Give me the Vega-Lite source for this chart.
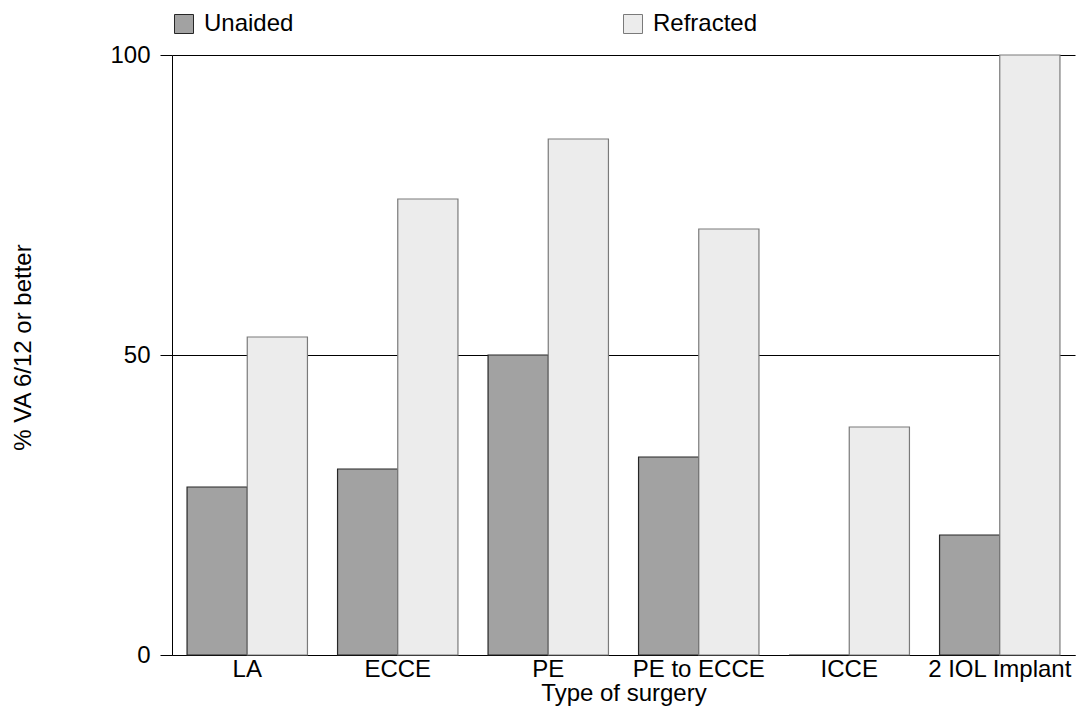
{
  "$schema": "https://vega.github.io/schema/vega-lite/v6.json",
  "width": 903,
  "height": 600,
  "autosize": {"type": "none"},
  "padding": {"left": 172, "top": 55, "right": 4, "bottom": 57},
  "config": {
    "view": {"stroke": null},
    "font": "Liberation Sans",
    "axis": {"labelColor": "black", "titleColor": "black", "titleFontWeight": "normal"}
  },
  "data": {
    "values": [
      {"surgery": "LA", "series": "Unaided", "value": 28},
      {"surgery": "LA", "series": "Refracted", "value": 53},
      {"surgery": "ECCE", "series": "Unaided", "value": 31},
      {"surgery": "ECCE", "series": "Refracted", "value": 76},
      {"surgery": "PE", "series": "Unaided", "value": 50},
      {"surgery": "PE", "series": "Refracted", "value": 86},
      {"surgery": "PE to ECCE", "series": "Unaided", "value": 33},
      {"surgery": "PE to ECCE", "series": "Refracted", "value": 71},
      {"surgery": "ICCE", "series": "Unaided", "value": 0},
      {"surgery": "ICCE", "series": "Refracted", "value": 38},
      {"surgery": "2 IOL Implant", "series": "Unaided", "value": 20},
      {"surgery": "2 IOL Implant", "series": "Refracted", "value": 100}
    ]
  },
  "mark": {"type": "bar", "strokeWidth": 1.2},
  "encoding": {
    "x": {
      "field": "surgery",
      "type": "nominal",
      "sort": ["LA", "ECCE", "PE", "PE to ECCE", "ICCE", "2 IOL Implant"],
      "scale": {"paddingInner": 0.2, "paddingOuter": 0.1},
      "axis": {
        "title": "Type of surgery",
        "labelAngle": 0,
        "labelFontSize": 24,
        "labelPadding": 2,
        "ticks": false,
        "domainColor": "black",
        "domainWidth": 1,
        "titleFontSize": 24,
        "titlePadding": 0
      }
    },
    "xOffset": {"field": "series", "type": "nominal", "sort": ["Unaided", "Refracted"]},
    "y": {
      "field": "value",
      "type": "quantitative",
      "scale": {"domain": [0, 100]},
      "axis": {
        "values": [0, 50, 100],
        "title": "% VA 6/12 or better",
        "grid": true,
        "gridColor": "black",
        "gridWidth": 1,
        "gridOpacity": 1,
        "domainColor": "black",
        "tickColor": "black",
        "tickSize": 12,
        "labelFontSize": 24,
        "labelPadding": 10,
        "titleFontSize": 24,
        "titleX": -149,
        "titleY": 292,
        "titleAngle": -90,
        "titleAlign": "center",
        "titleBaseline": "middle"
      }
    },
    "fill": {
      "field": "series",
      "type": "nominal",
      "sort": ["Unaided", "Refracted"],
      "scale": {"domain": ["Unaided", "Refracted"], "range": ["#a2a2a2", "#ececec"]},
      "legend": {
        "title": null,
        "orient": "none",
        "legendX": 0,
        "legendY": -43,
        "direction": "horizontal",
        "columns": 2,
        "columnPadding": 327,
        "symbolType": "square",
        "symbolSize": 361,
        "symbolStrokeWidth": 1,
        "labelFontSize": 24,
        "labelOffset": 8,
        "labelColor": "black"
      }
    },
    "stroke": {
      "field": "series",
      "type": "nominal",
      "sort": ["Unaided", "Refracted"],
      "scale": {"domain": ["Unaided", "Refracted"], "range": ["#262626", "#7a7a7a"]}
    }
  }
}
